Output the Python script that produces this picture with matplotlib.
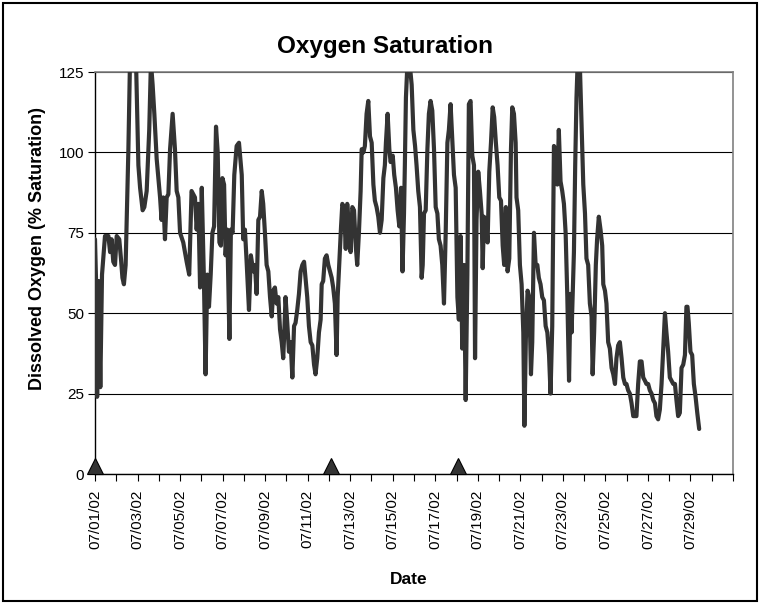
import numpy as np
import matplotlib
matplotlib.use("Agg")
import matplotlib.pyplot as plt
import matplotlib.dates as mdates
from matplotlib.patches import Rectangle

# ---- data (days since 07/01/2002 00:00, % saturation) ----
days = [
    0.00, 0.05, 0.10, 0.17, 0.25, 0.33, 0.47, 0.63, 0.71, 0.78, 0.86, 0.94, 1.02, 1.14, 1.22, 1.29,
    1.36, 1.44, 1.57, 1.65, 1.77, 1.93, 2.04, 2.12, 2.24, 2.32, 2.43, 2.55, 2.63, 2.71, 2.79, 2.90,
    3.06, 3.13, 3.21, 3.29, 3.37, 3.45, 3.53, 3.65, 3.76, 3.84, 3.92, 4.00, 4.15, 4.31, 4.43, 4.54,
    4.70, 4.78, 4.86, 4.94, 5.02, 5.12, 5.20, 5.28, 5.36, 5.44, 5.52, 5.60, 5.69, 5.77, 5.85, 5.92,
    5.99, 6.07, 6.14, 6.22, 6.32, 6.39, 6.47, 6.55, 6.66, 6.77, 6.90, 6.97, 7.05, 7.13, 7.24, 7.33,
    7.44, 7.52, 7.60, 7.68, 7.76, 7.84, 7.91, 7.99, 8.07, 8.15, 8.23, 8.31, 8.38, 8.46, 8.54, 8.62,
    8.70, 8.78, 8.85, 8.90, 8.96, 9.04, 9.12, 9.20, 9.28, 9.36, 9.43, 9.51, 9.59, 9.67, 9.75, 9.83,
    9.90, 9.98, 10.06, 10.14, 10.22, 10.30, 10.37, 10.45, 10.53, 10.61, 10.66, 10.73, 10.81, 10.89,
    10.97, 11.05, 11.13, 11.20, 11.28, 11.36, 11.41, 11.49, 11.57, 11.63, 11.71, 11.79, 11.86, 11.94,
    12.02, 12.10, 12.18, 12.26, 12.33, 12.41, 12.49, 12.54, 12.62, 12.69, 12.77, 12.85, 12.93, 13.01,
    13.09, 13.16, 13.24, 13.32, 13.40, 13.48, 13.56, 13.63, 13.68, 13.76, 13.84, 13.90, 14.00, 14.07,
    14.15, 14.23, 14.31, 14.39, 14.46, 14.53, 14.57, 14.62, 14.68, 14.75, 14.82,
    14.89, 14.97, 15.05, 15.12, 15.20, 15.28, 15.36, 15.41, 15.47, 15.55, 15.63, 15.70, 15.78, 15.86,
    15.94, 16.02, 16.10, 16.17, 16.25, 16.33, 16.41, 16.49, 16.57, 16.64, 16.72, 16.80, 16.88, 16.96,
    17.04, 17.11, 17.19, 17.27, 17.35, 17.43, 17.51, 17.58, 17.66, 17.74, 17.82, 17.87, 17.94, 18.02,
    18.10, 18.18, 18.23, 18.29, 18.38, 18.46, 18.54, 18.62, 18.70, 18.77, 18.85, 18.93, 19.01, 19.09,
    19.17, 19.24, 19.32, 19.40, 19.48, 19.56, 19.62, 19.70, 19.78, 19.82, 19.90, 19.98, 20.06, 20.14,
    20.19, 20.26, 20.34, 20.42, 20.50, 20.56, 20.64, 20.72, 20.80, 20.87, 20.95, 21.03, 21.11, 21.19,
    21.27, 21.35, 21.42, 21.50, 21.58, 21.66, 21.74, 21.81, 21.89, 21.97, 22.05, 22.13, 22.21, 22.29,
    22.36, 22.41, 22.46, 22.52, 22.58, 22.64, 22.69, 22.75, 22.80, 22.88, 22.96, 23.04, 23.11, 23.19,
    23.27, 23.35, 23.40, 23.47, 23.55, 23.61, 23.69, 23.77, 23.85, 23.90, 23.98, 24.05, 24.13, 24.21,
    24.29, 24.37, 24.45, 24.52, 24.60, 24.68, 24.76, 24.84, 24.92, 24.99, 25.07, 25.15, 25.23, 25.31,
    25.39, 25.46, 25.54, 25.62, 25.70, 25.78, 25.86, 25.93, 26.01, 26.09, 26.17, 26.25, 26.33, 26.40,
    26.48, 26.56, 26.64, 26.72, 26.80, 26.87, 26.95, 27.03, 27.11, 27.19, 27.27, 27.34, 27.42, 27.50,
    27.58, 27.66, 27.74, 27.81, 27.86, 27.92, 28.00, 28.08, 28.16, 28.24, 28.32, 28.41,
]
saturation = [
    73, 60, 24, 60, 27, 62, 74, 74, 69, 73, 66, 65, 74, 73, 67, 61,
    59, 65, 101, 130, 132, 128, 96, 89, 82, 83, 88, 107, 128, 121, 112, 98,
    86, 79, 86, 73, 86, 87, 101, 112, 101, 88, 86, 75, 72, 66, 62, 88,
    86, 76, 84, 58, 89, 61, 31, 62, 52, 62, 75, 77, 108, 100, 72, 71,
    92, 90, 68, 76, 42, 76, 75, 93, 102, 103, 93, 73, 76, 66, 51, 68,
    63, 65, 56, 79, 80, 88, 84, 75, 65, 63, 55, 49, 57, 58, 53, 55,
    45, 41, 36, 44, 55, 47, 38, 41, 30, 46, 47, 51, 56, 63, 65, 66,
    61, 55, 46, 41, 40, 34, 31, 36, 44, 48, 59, 60, 67, 68,
    65, 63, 61, 58, 53, 37, 55, 66, 77, 84, 83, 70, 84, 77,
    69, 83, 82, 71, 65, 75, 88, 101, 100, 102, 112, 116, 105, 103,
    90, 85, 83, 80, 75, 79, 92, 96, 103, 112, 101, 97, 99, 93,
    89, 82, 77, 89, 63, 81, 96, 117, 126, 133, 126,
    121, 107, 102, 96, 88, 83, 61, 65, 81, 82, 101, 112, 116, 113,
    101, 83, 81, 73, 71, 65, 53, 75, 103, 107, 115, 104, 93, 89,
    55, 48, 74, 39, 65, 23, 62, 115, 116, 99, 96, 36, 79, 94,
    88, 81, 64, 80, 79, 72, 94, 103, 114, 111, 103, 96, 86, 85,
    71, 65, 83, 63, 67, 101, 114, 112, 103, 86, 82, 65, 59, 44,
    15, 42, 57, 55, 31, 41, 75, 65, 65, 61, 59, 55, 54, 46,
    44, 37, 25, 46, 102, 101, 90, 107, 91, 88, 84, 75, 55, 29,
    56, 44, 55, 69, 96, 117, 127, 133, 127, 109, 90, 81, 67, 65,
    53, 49, 31, 44, 65, 73, 80, 76, 71, 59, 57, 53, 41, 39,
    33, 31, 28, 36, 40, 41, 36, 30, 28, 28, 26, 25, 22, 18,
    18, 18, 28, 35, 35, 30, 29, 28, 28, 26, 25, 23, 22, 18,
    17, 20, 28, 39, 50, 44, 38, 30, 29, 28, 28, 23, 18, 19,
    33, 34, 37, 52, 52, 47, 38, 37, 28, 24, 19, 14,
]
event_days = [0.0, 11.1, 17.05]
event_level = [2.5, 2.5, 2.5]

title = "Oxygen Saturation"
ylabel = "Dissolved Oxygen (% Saturation)"
xlabel = "Date"
yticks = [0, 25, 50, 75, 100, 125]

start = np.datetime64("2002-07-01T00:00")
def to_dt(d):
    return start + (np.asarray(d) * 24 * 60).round().astype("timedelta64[m]")

t = to_dt(days)
te = to_dt(event_days)

plt.rcParams["font.family"] = ["Liberation Sans", "DejaVu Sans"]

W, H = 763, 605
fig = plt.figure(figsize=(W / 100, H / 100), dpi=100)
fig.patch.set_facecolor("white")
ax = fig.add_axes([95 / W, 1 - 474 / H, (733 - 95) / W, (474 - 72) / H])

ax.plot(t, saturation, color="#333333", lw=3.0, solid_joinstyle="round",
        solid_capstyle="round", zorder=3)
ax.plot(te, event_level, linestyle="none", marker="^", markersize=11,
        markerfacecolor="#333333", markeredgecolor="black", markeredgewidth=0.8,
        zorder=4, clip_on=False)

ax.set_ylim(0, 125)
ax.set_xlim(np.datetime64("2002-07-01"), np.datetime64("2002-07-31"))
ax.set_yticks(yticks)
ax.yaxis.grid(True, color="black", lw=0.8)
ax.set_axisbelow(True)

ax.xaxis.set_major_locator(mdates.DayLocator(bymonthday=range(1, 30, 2)))
ax.xaxis.set_minor_locator(mdates.DayLocator())
ax.xaxis.set_major_formatter(mdates.DateFormatter("%m/%d/%y"))
ax.tick_params(axis="x", which="both", direction="out", length=5, width=0.8, color="black")
ax.tick_params(axis="x", which="major", labelsize=11, rotation=90, pad=6)
ax.tick_params(axis="y", direction="out", length=5, width=0.8, labelsize=11, pad=3)

for s in ["top", "right"]:
    ax.spines[s].set_color("#808080")
    ax.spines[s].set_linewidth(1.2)
for s in ["left", "bottom"]:
    ax.spines[s].set_color("black")
    ax.spines[s].set_linewidth(1.0)

fig.text(385 / W, 1 - 46 / H, title, ha="center", va="center",
         fontsize=17.5, fontweight="bold")
fig.text(38 / W, 1 - 248 / H, ylabel, ha="center", va="center", rotation=90,
         fontsize=13, fontweight="bold")
fig.text(409 / W, 1 - 580 / H, xlabel, ha="center", va="center",
         fontsize=12.5, fontweight="bold")

fig.patches.append(Rectangle((3 / W, 4 / H), 754 / W, 598 / H, transform=fig.transFigure,
                             fill=False, edgecolor="black", linewidth=1.5))

fig.savefig("out.png", dpi=100)
